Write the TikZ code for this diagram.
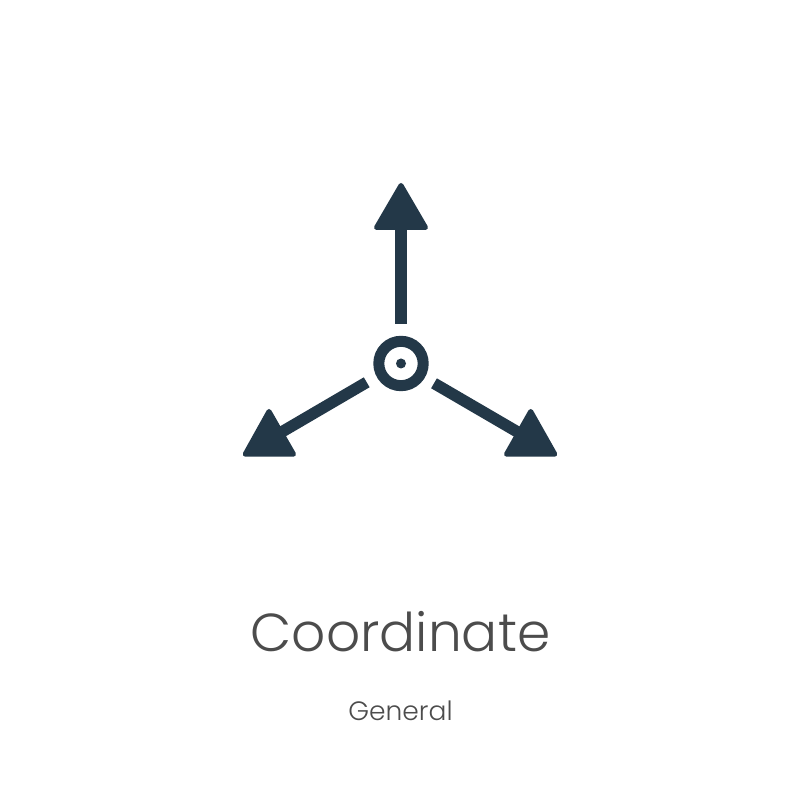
\documentclass[tikz,border=0pt]{standalone}
\usepackage{xcolor}
\usepackage{fontspec}
\setmainfont[UprightFont=* Light]{Poppins}
\usepackage{tikz}
\definecolor{iconblue}{HTML}{233848}
\definecolor{labelgray}{HTML}{4C4C4C}
\tikzset{
    tip/.style={fill=iconblue, draw=iconblue, line width=0.05cm, line join=round},
    shaft/.style={draw=iconblue, line width=0.115cm},
    label/.style={text=labelgray, anchor=base, inner sep=0pt}
}

\begin{document}
\begin{tikzpicture}

    % Background
    \useasboundingbox (0, 0) rectangle (8, 8);
    \fill[white] (0, 0) rectangle (8, 8);

    % Up arrow
    \filldraw[tip] (4.01, 6.145) -- (3.765, 5.725) -- (4.255, 5.725) -- cycle;
    \draw[shaft] (4.01, 5.75) -- (4.01, 4.76);

    % Left arrow
    \filldraw[tip] (2.69, 3.885) -- (2.452, 3.458) -- (2.935, 3.458) -- cycle;
    \draw[shaft] (3.667, 4.177) -- (2.80, 3.67);

    % Right arrow
    \filldraw[tip] (5.307, 3.885) -- (5.065, 3.458) -- (5.548, 3.458) -- cycle;
    \draw[shaft] (4.34, 4.167) -- (5.21, 3.66);

    % Centre
    \draw[iconblue, line width=0.11cm] (4.01, 4.365) circle (0.222);
    \fill[iconblue] (4.01, 4.365) circle (0.05);

    % Labels
    \node[label, font=\fontsize{15.2pt}{18pt}\selectfont] (title) at (4.005, 1.483) {Coordinate};
    \node[label, font=\fontsize{7.55pt}{9pt}\selectfont] (category) at (4.005, 0.793) {General};

\end{tikzpicture}
\end{document}
